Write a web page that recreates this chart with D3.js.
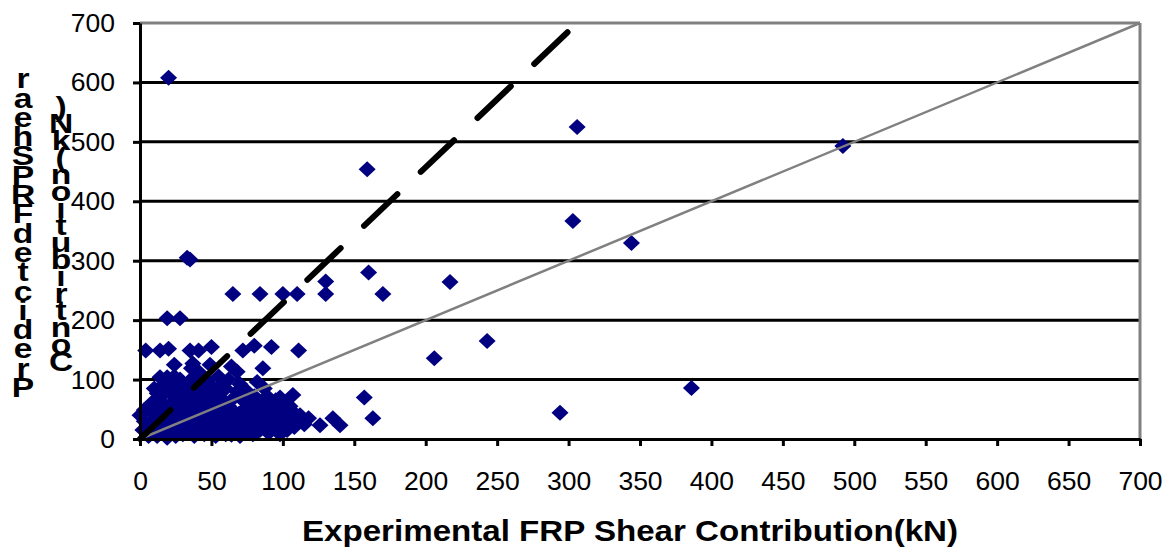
<!DOCTYPE html>
<html>
<head>
<meta charset="utf-8">
<script src="https://cdn.jsdelivr.net/npm/d3@7"></script>
<style>
  html, body { margin: 0; padding: 0; background: #fff; }
  svg { display: block; font-family: "Liberation Sans", Arial, sans-serif; }
</style>
</head>
<body>
<svg id="chart" width="1164" height="548"></svg>
<script>
// ---- data ----
const xTicks = [0,50,100,150,200,250,300,350,400,450,500,550,600,650,700];
const yTicks = [0,100,200,300,400,500,600,700];
const xTitle = "Experimental FRP Shear Contribution(kN)";
const yTitleCol1 = "PredictedFRPShear";      // read bottom to top
const yTitleCol2 = "Contribution(kN)";       // read bottom to top

// outlying / clearly readable points [experimental, predicted]
const outerPoints = [
  [20,608],[33,305],[35,302],[65,244],[84,244],[100,244],[110,244],[130,265],[130,244],
  [159,454],[160,280],[170,244],[217,264],[243,165],[206,136],[306,525],[492,493],
  [303,367],[344,330],[386,86],[294,44],[157,70],[163,35],[126,23],[135,35],[140,23],[112,35]
];
// mid-level cluster points
const midPoints = [
  [19,203],[28,203],[4,149],[14,149],[20,152],[35,149],[41,149],[50,155],[72,149],[80,157],
  [92,155],[111,149],[24,125],[37,127],[49,125],[64,122],[68,113],[86,119],[14,104],[19,104],
  [82,96],[12,77],[48,82],[68,80],[107,74],[89,72],[3,49],[0,40],[86,49],[93,54],[100,54],
  [107,46],[112,40],[97,18],[82,12],[64,7],[6,52],[36,119],[41,113],[54,80],[45,66],[30,71],
  [27,90],[40,95],[58,92],[24,105]
];
// dense low cluster points
const lowPoints = [
  [5,25],[8,12],[10,35],[12,5],[13,20],[15,45],[16,30],[17,10],[18,55],[19,2],[20,22],[21,38],
  [22,60],[23,15],[24,48],[25,5],[26,30],[27,65],[28,18],[29,42],[30,8],[31,55],[32,28],[33,70],
  [34,12],[35,40],[36,22],[37,58],[38,5],[39,33],[40,50],[41,15],[42,68],[43,28],[44,40],[45,8],
  [46,55],[47,20],[48,35],[49,48],[50,12],[51,28],[52,62],[53,5],[54,40],[55,22],[56,52],[57,15],
  [58,35],[59,45],[60,8],[61,28],[62,55],[63,18],[64,38],[65,48],[66,10],[67,30],[68,22],[69,42],
  [70,5],[71,35],[72,18],[73,50],[74,28],[75,12],[76,40],[77,22],[78,30],[79,8],[80,45],[81,25],
  [82,35],[84,15],[85,40],[86,28],[88,20],[89,38],[90,10],[91,30],[93,22],[95,40],[96,30],[98,8],
  [99,25],[101,35],[103,15],[105,28],[108,20],[110,30],[115,25],[118,35],
  [8,60],[10,85],[14,70],[17,92],[20,80],[23,95],[25,72],[28,100],[31,85],[34,95],[36,78],[38,105],
  [40,88],[43,80],[46,100],[50,90],[52,75],[55,105],[57,68],[60,85],[62,100],[66,70],[70,92],[72,65],
  [75,80],[78,60],[80,72],[84,62],[87,85],[90,58],[95,65],[98,70],[102,60],[105,55],[9,45],[11,62],
  [3,30],[2,15],[6,5]
];
// reference lines
const equalityLine = [[0,0],[700,700]];
const trendLine = [[0,0],[300,686]];

// ---- drawing ----
const svg = d3.select("#chart");
const x = d3.scaleLinear().domain([0,700]).range([140,1140]);
const y = d3.scaleLinear().domain([0,700]).range([439,23]);

// gridlines
svg.append("g").selectAll("line")
  .data(yTicks.filter(v => v > 0 && v < 700))
  .join("line")
  .attr("x1", x(0)).attr("x2", x(700))
  .attr("y1", d => y(d)).attr("y2", d => y(d))
  .attr("stroke", "#000").attr("stroke-width", 3);

// top and right borders (gray)
svg.append("line").attr("x1", x(0)).attr("x2", x(700)).attr("y1", y(700)).attr("y2", y(700))
  .attr("stroke", "#808080").attr("stroke-width", 3);
svg.append("line").attr("x1", x(700)).attr("x2", x(700)).attr("y1", y(700)).attr("y2", y(0))
  .attr("stroke", "#808080").attr("stroke-width", 3);

// points
const allPoints = outerPoints.concat(midPoints, lowPoints);
const hw = 8.5, hh = 8;
svg.append("g").selectAll("path")
  .data(allPoints)
  .join("path")
  .attr("d", d => {
    const cx = x(d[0]), cy = y(d[1]);
    return `M${cx},${cy-hh}L${cx+hw},${cy}L${cx},${cy+hh}L${cx-hw},${cy}Z`;
  })
  .attr("fill", "#000080");

const line = d3.line().x(d => x(d[0])).y(d => y(d[1]));
svg.append("path").datum(equalityLine).attr("d", line)
  .attr("stroke", "#808080").attr("stroke-width", 2.5).attr("fill", "none");
svg.append("path").datum(trendLine).attr("d", line)
  .attr("stroke", "#000").attr("stroke-width", 6).attr("fill", "none")
  .attr("stroke-linecap", "round").attr("stroke-dasharray", "46,32.3")
  .attr("stroke-dashoffset", 4);

// axes
const xAxis = d3.axisBottom(x).tickValues(xTicks).tickFormat(d3.format("d"))
  .tickSize(7).tickSizeOuter(0).tickPadding(25);
const gx = svg.append("g").attr("transform", `translate(0,${y(0)})`).call(xAxis);
const yAxis = d3.axisLeft(y).tickValues(yTicks).tickFormat(d3.format("d"))
  .tickSize(7).tickSizeOuter(0).tickPadding(18);
const gy = svg.append("g").attr("transform", `translate(${x(0)},0)`).call(yAxis);

[gx, gy].forEach(g => {
  g.select(".domain").attr("stroke", "#000").attr("stroke-width", 3);
  g.selectAll(".tick line").attr("stroke", "#000").attr("stroke-width", 3);
  g.selectAll(".tick text").attr("fill", "#000")
    .style("font-family", '"Liberation Sans", Arial, sans-serif')
    .style("font-size", "26.5px");
});

// x title
svg.append("text")
  .attr("x", 302).attr("y", 541)
  .attr("text-anchor", "start")
  .attr("textLength", 656).attr("lengthAdjust", "spacingAndGlyphs")
  .style("font-size", "30px").style("font-weight", "bold")
  .text(xTitle);

// y title: stacked upright characters, two columns, reading bottom to top
function stackColumn(str, cx, baseBottom, step) {
  svg.append("g").selectAll("text")
    .data(str.split(""))
    .join("text")
    .attr("transform", (d, i) => `translate(${cx},${baseBottom - i * step}) scale(1.2,1)`)
    .attr("text-anchor", "middle")
    .style("font-size", "28px").style("font-weight", "bold")
    .text(d => d);
}
stackColumn(yTitleCol1, 23, 397, 19.3);
stackColumn(yTitleCol2, 61, 371, 17);
</script>
</body>
</html>
